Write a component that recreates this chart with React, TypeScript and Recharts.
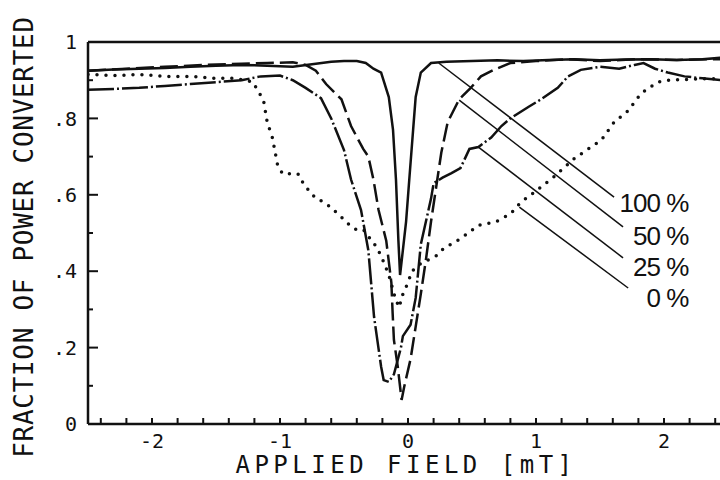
import { LineChart, Line, XAxis, YAxis, ReferenceLine, ReferenceDot } from "recharts"

// applied field [mT] and fraction of power converted
const field100 = [-2.5, -2.3, -2.1, -1.9, -1.7, -1.5, -1.3, -1.1, -0.9, -0.75, -0.6, -0.5, -0.4, -0.33, -0.27, -0.21, -0.15, -0.117, -0.094, -0.075, -0.062, -0.04, -0.015, 0.01, 0.04, 0.06, 0.1, 0.18, 0.3, 0.5, 0.7, 0.9, 1.1, 1.3, 1.5, 1.7, 1.9, 2.1, 2.3, 2.5]
const power100 = [0.925, 0.928, 0.93, 0.932, 0.935, 0.938, 0.94, 0.938, 0.935, 0.942, 0.948, 0.95, 0.95, 0.945, 0.93, 0.92, 0.856, 0.77, 0.64, 0.48, 0.39, 0.455, 0.53, 0.64, 0.77, 0.856, 0.92, 0.945, 0.948, 0.95, 0.952, 0.95, 0.953, 0.955, 0.952, 0.954, 0.955, 0.953, 0.955, 0.96]

const field50 = [-2.5, -2.2, -1.9, -1.6, -1.3, -1.1, -0.9, -0.8, -0.72, -0.64, -0.52, -0.445, -0.35, -0.31, -0.27, -0.23, -0.17, -0.13, -0.12, -0.11, -0.08, -0.05, -0.03, 0.02, 0.06, 0.1, 0.14, 0.18, 0.26, 0.31, 0.4, 0.49, 0.57, 0.67, 0.8, 1.0, 1.25, 1.5, 1.8, 2.1, 2.4, 2.5]
const power50 = [0.925, 0.93, 0.935, 0.94, 0.943, 0.945, 0.947, 0.94, 0.925, 0.89, 0.85, 0.78, 0.72, 0.7, 0.64, 0.56, 0.48, 0.37, 0.29, 0.22, 0.15, 0.063, 0.097, 0.17, 0.255, 0.34, 0.43, 0.53, 0.71, 0.79, 0.85, 0.88, 0.91, 0.927, 0.945, 0.95, 0.955, 0.95, 0.955, 0.953, 0.955, 0.955]

const field25 = [-2.5, -2.3, -2.1, -1.9, -1.7, -1.5, -1.3, -1.15, -1.0, -0.9, -0.8, -0.68, -0.6, -0.5, -0.445, -0.367, -0.31, -0.265, -0.21, -0.19, -0.15, -0.11, -0.055, -0.04, 0.02, 0.06, 0.1, 0.14, 0.18, 0.2, 0.27, 0.34, 0.41, 0.48, 0.55, 0.65, 0.73, 0.8, 0.94, 1.04, 1.17, 1.25, 1.35, 1.5, 1.65, 1.77, 1.84, 1.93, 2.03, 2.16, 2.3, 2.45, 2.5]
const power25 = [0.875, 0.877, 0.88, 0.885, 0.89, 0.895, 0.9, 0.91, 0.912, 0.9, 0.88, 0.853, 0.8, 0.717, 0.64, 0.56, 0.455, 0.28, 0.15, 0.115, 0.11, 0.13, 0.2, 0.23, 0.26, 0.33, 0.47, 0.53, 0.59, 0.63, 0.645, 0.657, 0.67, 0.72, 0.725, 0.75, 0.78, 0.8, 0.83, 0.85, 0.88, 0.91, 0.927, 0.935, 0.93, 0.94, 0.945, 0.93, 0.92, 0.91, 0.905, 0.9, 0.9]

const field0 = [-2.5, -2.3, -2.1, -1.9, -1.7, -1.5, -1.35, -1.28, -1.21, -1.17, -1.13, -1.1, -1.06, -1.02, -0.98, -0.86, -0.81, -0.72, -0.65, -0.59, -0.53, -0.47, -0.41, -0.35, -0.3, -0.25, -0.21, -0.15, -0.1, -0.07, -0.04, 0.0, 0.03, 0.1, 0.22, 0.28, 0.41, 0.55, 0.69, 0.8, 0.88, 0.98, 1.14, 1.3, 1.43, 1.51, 1.61, 1.72, 1.82, 1.95, 2.03, 2.25, 2.5]
const power0 = [0.915, 0.912, 0.915, 0.91, 0.91, 0.905, 0.905, 0.9, 0.895, 0.87, 0.85, 0.79, 0.75, 0.68, 0.655, 0.655, 0.625, 0.59, 0.58, 0.563, 0.545, 0.525, 0.51, 0.51, 0.487, 0.465, 0.44, 0.39, 0.33, 0.305, 0.34, 0.37, 0.4, 0.42, 0.44, 0.46, 0.485, 0.52, 0.53, 0.55, 0.58, 0.605, 0.647, 0.695, 0.725, 0.743, 0.79, 0.82, 0.865, 0.895, 0.9, 0.903, 0.905]

const xTicks = [-2.4, -2.2, -2, -1.8, -1.6, -1.4, -1.2, -1, -0.8, -0.6, -0.4, -0.2, 0, 0.2, 0.4, 0.6, 0.8, 1, 1.2, 1.4, 1.6, 1.8, 2, 2.2, 2.4]
const yTicks = [0, 0.1, 0.2, 0.3, 0.4, 0.5, 0.6, 0.7, 0.8, 0.9, 1]

// annotation leaders, in data units
const legendNames = ["100 %", "50 %", "25 %", "0 %"]
const leaderFromX = [0.24, 0.4, 0.55, 0.87]
const leaderFromY = [0.945, 0.848, 0.725, 0.568]
const leaderToX = [1.61, 1.68, 1.68, 1.72]
const leaderToY = [0.594, 0.516, 0.435, 0.356]
const legendTextX = 2.19
const legendTextY = [0.579, 0.492, 0.411, 0.332]

const toPoints = (xs: number[], ys: number[]) => xs.map((x, i) => ({ x, y: ys[i] }))

const mono = "'DejaVu Sans Mono', monospace"
const ink = "#111"

const isWhole = (v: number) => Math.abs(v - Math.round(v)) < 1e-6

function BottomTick({ x, y, payload }: any) {
  const v = payload.value
  return (
    <g>
      <line x1={x} y1={y} x2={x} y2={y - 6} stroke={ink} strokeWidth={2} />
      {isWhole(v) && (
        <text x={x} y={y + 24} textAnchor="middle" fontFamily={mono} fontSize={20} fill={ink}>
          {v < 0 ? "-" + Math.abs(Math.round(v)) : String(Math.round(v))}
        </text>
      )}
    </g>
  )
}

function TopTick({ x, y }: any) {
  return <line x1={x} y1={y} x2={x} y2={y + 6} stroke={ink} strokeWidth={2} />
}

function LeftTick({ x, y, payload }: any) {
  const v = payload.value
  const major = Math.round(v * 10) % 2 === 0
  const text = v === 0 ? "0" : v === 1 ? "1" : "." + Math.round(v * 10)
  return (
    <g>
      <line x1={x} y1={y} x2={x + (major ? 10 : 5)} y2={y} stroke={ink} strokeWidth={2} />
      {major && (
        <text x={x - 11} y={y} dy="0.36em" textAnchor="end" fontFamily={mono} fontSize={20} fill={ink}>
          {text}
        </text>
      )}
    </g>
  )
}

function RightTick({ x, y, payload }: any) {
  const major = Math.round(payload.value * 10) % 2 === 0
  return <line x1={x} y1={y} x2={x - (major ? 10 : 5)} y2={y} stroke={ink} strokeWidth={2} />
}

function LegendText({ viewBox, value }: any) {
  return (
    <text
      x={viewBox.x}
      y={viewBox.y}
      dy="0.36em"
      textAnchor="end"
      fontFamily="'Liberation Sans', Arial, sans-serif"
      fontSize={26}
      letterSpacing={-1}
      fill={ink}
    >
      {value}
    </text>
  )
}

export default function App() {
  const axisLine = { stroke: ink, strokeWidth: 2.5 }
  return (
    <div
      style={{
        position: "absolute",
        left: 0,
        top: 0,
        width: 720,
        height: 480,
        overflow: "hidden",
        background: "#fff",
      }}
    >
      <LineChart width={740} height={480} margin={{ top: 32, right: 0, bottom: 0, left: 0 }}>
        <XAxis
          dataKey="x"
          type="number"
          domain={[-2.5, 2.5]}
          allowDataOverflow
          ticks={xTicks}
          interval={0}
          height={56}
          tickSize={0}
          tickMargin={0}
          tickLine={false}
          axisLine={axisLine}
          tick={<BottomTick />}
          label={{
            content: ({ viewBox }: any) => (
              <text
                x={viewBox.x + viewBox.width / 2 - 2}
                y={viewBox.y + 49}
                textAnchor="middle"
                fontFamily={mono}
                fontSize={24}
                letterSpacing={4.5}
                fill={ink}
              >
                APPLIED FIELD [mT]
              </text>
            ),
          }}
        />
        <XAxis
          xAxisId="top"
          orientation="top"
          type="number"
          domain={[-2.5, 2.5]}
          ticks={xTicks}
          interval={0}
          height={10}
          tickSize={0}
          tickMargin={0}
          tickLine={false}
          axisLine={axisLine}
          tick={<TopTick />}
        />
        <YAxis
          type="number"
          domain={[0, 1]}
          ticks={yTicks}
          interval={0}
          width={88}
          tickSize={0}
          tickMargin={0}
          tickLine={false}
          axisLine={axisLine}
          tick={<LeftTick />}
          label={{
            content: ({ viewBox }: any) => {
              const cx = viewBox.x + 33
              const cy = viewBox.y + viewBox.height / 2 + 4
              return (
                <text
                  x={cx}
                  y={cy}
                  transform={`rotate(-90 ${cx} ${cy})`}
                  textAnchor="middle"
                  fontFamily={mono}
                  fontSize={26}
                  letterSpacing={0.7}
                  fill={ink}
                >
                  FRACTION OF POWER CONVERTED
                </text>
              )
            },
          }}
        />
        <YAxis
          yAxisId="right"
          orientation="right"
          type="number"
          domain={[0, 1]}
          ticks={yTicks}
          interval={0}
          width={12}
          tickSize={0}
          tickMargin={0}
          tickLine={false}
          axisLine={axisLine}
          tick={<RightTick />}
        />

        <Line
          data={toPoints(field100, power100)}
          dataKey="y"
          type="linear"
          stroke={ink}
          strokeWidth={2.5}
          dot={false}
          isAnimationActive={false}
        />
        <Line
          data={toPoints(field50, power50)}
          dataKey="y"
          type="linear"
          stroke={ink}
          strokeWidth={2.5}
          strokeDasharray="18 6"
          dot={false}
          isAnimationActive={false}
        />
        <Line
          data={toPoints(field25, power25)}
          dataKey="y"
          type="linear"
          stroke={ink}
          strokeWidth={2.5}
          strokeDasharray="26 3 2 3"
          dot={false}
          isAnimationActive={false}
        />
        <Line
          data={toPoints(field0, power0)}
          dataKey="y"
          type="linear"
          stroke={ink}
          strokeWidth={3.5}
          strokeDasharray="0 9"
          strokeLinecap="round"
          dot={false}
          isAnimationActive={false}
        />

        {legendNames.map((name, i) => (
          <ReferenceLine
            key={"leader" + i}
            segment={[
              { x: leaderFromX[i], y: leaderFromY[i] },
              { x: leaderToX[i], y: leaderToY[i] },
            ]}
            stroke={ink}
            strokeWidth={1.5}
          />
        ))}
        {legendNames.map((name, i) => (
          <ReferenceDot
            key={"name" + i}
            x={legendTextX}
            y={legendTextY[i]}
            r={0}
            fill="none"
            stroke="none"
            label={{ value: name, content: <LegendText /> }}
          />
        ))}
      </LineChart>
    </div>
  )
}
